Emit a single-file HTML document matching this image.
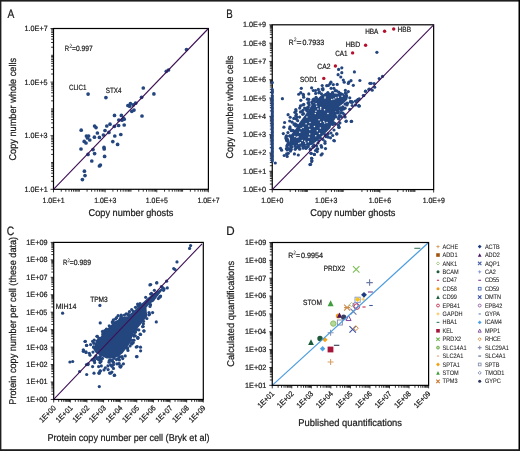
<!DOCTYPE html>
<html><head><meta charset="utf-8"><style>
html,body{margin:0;padding:0;background:#fff;}
svg{display:block;will-change:transform;}
text.l{stroke-width:0.06px;}
text{font-family:"Liberation Sans", sans-serif;fill:#1b1a1a;text-rendering:geometricPrecision;stroke:#1b1a1a;stroke-width:0.22px;}
</style></head><body>
<svg width="520" height="451" viewBox="0 0 520 451">
<rect width="520" height="451" fill="#fff"/>
<rect x="0" y="0" width="520" height="1.6" fill="#1e1e1e"/>
<rect x="0" y="0" width="1.4" height="451" fill="#1e1e1e"/>
<rect x="518.5" y="0" width="1.5" height="451" fill="#000"/>
<rect x="0" y="449.2" width="520" height="1.8" fill="#1e1e1e"/>
<text x="7.38" y="17.6" font-size="12.2" textLength="6.83" lengthAdjust="spacingAndGlyphs">A</text>
<text x="24.57" y="191.8" font-size="7.6" textLength="23.08" lengthAdjust="spacingAndGlyphs">1.0E+1</text>
<text x="42.54" y="202.6" font-size="7.6" textLength="22.14" lengthAdjust="spacingAndGlyphs">1.0E+1</text>
<text x="24.57" y="138.2" font-size="7.6" textLength="23.04" lengthAdjust="spacingAndGlyphs">1.0E+3</text>
<text x="94.17" y="202.6" font-size="7.6" textLength="22.11" lengthAdjust="spacingAndGlyphs">1.0E+3</text>
<text x="24.57" y="84.6" font-size="7.6" textLength="23.03" lengthAdjust="spacingAndGlyphs">1.0E+5</text>
<text x="145.81" y="202.6" font-size="7.6" textLength="22.09" lengthAdjust="spacingAndGlyphs">1.0E+5</text>
<text x="24.57" y="31" font-size="7.6" textLength="23.08" lengthAdjust="spacingAndGlyphs">1.0E+7</text>
<text x="197.44" y="202.6" font-size="7.6" textLength="22.14" lengthAdjust="spacingAndGlyphs">1.0E+7</text>
<path d="M53.5 189.3v3M105.13 189.3v3M156.77 189.3v3M208.4 189.3v3M61.27 189.3v2.4M65.82 189.3v2.4M69.04 189.3v2.4M71.55 189.3v2.4M73.59 189.3v2.4M75.32 189.3v2.4M76.81 189.3v2.4M78.14 189.3v2.4M79.32 189.3v2.4M87.09 189.3v2.4M91.63 189.3v2.4M94.86 189.3v2.4M97.36 189.3v2.4M99.41 189.3v2.4M101.13 189.3v2.4M102.63 189.3v2.4M103.95 189.3v2.4M112.9 189.3v2.4M117.45 189.3v2.4M120.68 189.3v2.4M123.18 189.3v2.4M125.22 189.3v2.4M126.95 189.3v2.4M128.45 189.3v2.4M129.77 189.3v2.4M130.95 189.3v2.4M138.72 189.3v2.4M143.27 189.3v2.4M146.49 189.3v2.4M149 189.3v2.4M151.04 189.3v2.4M152.77 189.3v2.4M154.26 189.3v2.4M155.59 189.3v2.4M164.54 189.3v2.4M169.08 189.3v2.4M172.31 189.3v2.4M174.81 189.3v2.4M176.86 189.3v2.4M178.58 189.3v2.4M180.08 189.3v2.4M181.4 189.3v2.4M182.58 189.3v2.4M190.35 189.3v2.4M194.9 189.3v2.4M198.13 189.3v2.4M200.63 189.3v2.4M202.67 189.3v2.4M204.4 189.3v2.4M205.9 189.3v2.4M207.22 189.3v2.4M53.5 189.3h-3M53.5 135.7h-3M53.5 82.1h-3M53.5 28.5h-3M53.5 181.23h-2.4M53.5 176.51h-2.4M53.5 173.16h-2.4M53.5 170.57h-2.4M53.5 168.45h-2.4M53.5 166.65h-2.4M53.5 165.1h-2.4M53.5 163.73h-2.4M53.5 162.5h-2.4M53.5 154.43h-2.4M53.5 149.71h-2.4M53.5 146.36h-2.4M53.5 143.77h-2.4M53.5 141.65h-2.4M53.5 139.85h-2.4M53.5 138.3h-2.4M53.5 136.93h-2.4M53.5 127.63h-2.4M53.5 122.91h-2.4M53.5 119.56h-2.4M53.5 116.97h-2.4M53.5 114.85h-2.4M53.5 113.05h-2.4M53.5 111.5h-2.4M53.5 110.13h-2.4M53.5 108.9h-2.4M53.5 100.83h-2.4M53.5 96.11h-2.4M53.5 92.76h-2.4M53.5 90.17h-2.4M53.5 88.05h-2.4M53.5 86.25h-2.4M53.5 84.7h-2.4M53.5 83.33h-2.4M53.5 74.03h-2.4M53.5 69.31h-2.4M53.5 65.96h-2.4M53.5 63.37h-2.4M53.5 61.25h-2.4M53.5 59.45h-2.4M53.5 57.9h-2.4M53.5 56.53h-2.4M53.5 55.3h-2.4M53.5 47.23h-2.4M53.5 42.51h-2.4M53.5 39.16h-2.4M53.5 36.57h-2.4M53.5 34.45h-2.4M53.5 32.65h-2.4M53.5 31.1h-2.4M53.5 29.73h-2.4" stroke="#000" stroke-width="0.8" fill="none"/>
<rect x="53.5" y="28.5" width="154.9" height="160.8" fill="none" stroke="#000" stroke-width="1.2"/>
<g fill="#24467f"><circle cx="81.2" cy="130.2" r="1.85"/><circle cx="94.6" cy="126" r="1.85"/><circle cx="96" cy="127.6" r="1.85"/><circle cx="97.4" cy="133" r="1.85"/><circle cx="86.4" cy="136" r="1.85"/><circle cx="88.6" cy="136" r="1.85"/><circle cx="87.4" cy="138" r="1.85"/><circle cx="89.8" cy="140" r="1.85"/><circle cx="84.2" cy="141.4" r="1.85"/><circle cx="86" cy="143" r="1.85"/><circle cx="94.4" cy="137.2" r="1.85"/><circle cx="99.4" cy="137.4" r="1.85"/><circle cx="81" cy="149" r="1.85"/><circle cx="93" cy="149.6" r="1.85"/><circle cx="94.6" cy="153.6" r="1.85"/><circle cx="88" cy="154.4" r="1.85"/><circle cx="91.8" cy="161" r="1.85"/><circle cx="104" cy="147.4" r="1.85"/><circle cx="104.2" cy="149" r="1.85"/><circle cx="104.6" cy="156.4" r="1.85"/><circle cx="99.4" cy="166" r="1.85"/><circle cx="100.4" cy="165" r="1.85"/><circle cx="84.4" cy="171.2" r="1.85"/><circle cx="85" cy="175.6" r="1.85"/><circle cx="82.4" cy="179.6" r="1.85"/><circle cx="105" cy="130.5" r="1.85"/><circle cx="103.4" cy="135" r="1.85"/><circle cx="106.8" cy="126" r="1.85"/><circle cx="110" cy="124.2" r="1.85"/><circle cx="108.9" cy="132.4" r="1.85"/><circle cx="114.5" cy="115.4" r="1.85"/><circle cx="114.4" cy="126.3" r="1.85"/><circle cx="114.8" cy="136" r="1.85"/><circle cx="112.8" cy="141.6" r="1.85"/><circle cx="117.6" cy="144.4" r="1.85"/><circle cx="120.8" cy="134.5" r="1.85"/><circle cx="121.4" cy="115.4" r="1.85"/><circle cx="118.8" cy="120" r="1.85"/><circle cx="118.6" cy="125.5" r="1.85"/><circle cx="122" cy="120.2" r="1.85"/><circle cx="123.4" cy="118.7" r="1.85"/><circle cx="124.2" cy="125" r="1.85"/><circle cx="124.2" cy="119.2" r="1.85"/><circle cx="127.9" cy="105.5" r="1.85"/><circle cx="129.6" cy="106.2" r="1.85"/><circle cx="186.5" cy="49.5" r="1.85"/><circle cx="166.3" cy="71.3" r="1.85"/><circle cx="168.5" cy="70" r="1.85"/><circle cx="143.3" cy="88" r="1.85"/><circle cx="153.9" cy="93.9" r="1.85"/><circle cx="141.6" cy="97.3" r="1.85"/><circle cx="130.4" cy="103.5" r="1.85"/><circle cx="135.6" cy="103.2" r="1.85"/><circle cx="133.2" cy="104.9" r="1.85"/><circle cx="131.8" cy="111.3" r="1.85"/><circle cx="134" cy="110.1" r="1.85"/><circle cx="142" cy="116" r="1.85"/><circle cx="88.1" cy="94.1" r="1.85"/><circle cx="105.9" cy="97.6" r="1.85"/></g>
<line x1="53.5" y1="189.3" x2="208.4" y2="28.5" stroke="#3e1056" stroke-width="1.1"/>
<text x="64.71" y="50.9" font-size="7.6" textLength="4.36" lengthAdjust="spacingAndGlyphs">R</text>
<path d="M69.74 44.97Q70.82 43.21 71.66 44.97Q71.9 45.95 69.62 47.5H72.02" fill="none" stroke="#1b1a1a" stroke-width="0.55"/>
<text x="71.99" y="50.9" font-size="7.6" textLength="20.73" lengthAdjust="spacingAndGlyphs">=0.997</text>
<text x="68.9" y="89.6" font-size="7.6" textLength="17.6" lengthAdjust="spacingAndGlyphs">CLIC1</text>
<text x="105.73" y="92.9" font-size="7.6" textLength="15.74" lengthAdjust="spacingAndGlyphs">STX4</text>
<text x="88.55" y="216.1" font-size="9.8" textLength="84.76" lengthAdjust="spacingAndGlyphs">Copy number ghosts</text>
<text x="15.75" y="160.55" font-size="9.8" textLength="102.66" lengthAdjust="spacingAndGlyphs" transform="rotate(-90 15.75 160.55)">Copy number whole cells</text>
<text x="226.31" y="17.6" font-size="12.2" textLength="6.49" lengthAdjust="spacingAndGlyphs">B</text>
<text x="243.07" y="192.05" font-size="7.6" textLength="23.01" lengthAdjust="spacingAndGlyphs">1.0E+0</text>
<text x="243.07" y="173.74" font-size="7.6" textLength="23.08" lengthAdjust="spacingAndGlyphs">1.0E+1</text>
<text x="243.07" y="155.44" font-size="7.6" textLength="23.08" lengthAdjust="spacingAndGlyphs">1.0E+2</text>
<text x="243.07" y="137.13" font-size="7.6" textLength="23.04" lengthAdjust="spacingAndGlyphs">1.0E+3</text>
<text x="243.07" y="118.83" font-size="7.6" textLength="22.93" lengthAdjust="spacingAndGlyphs">1.0E+4</text>
<text x="243.07" y="100.52" font-size="7.6" textLength="23.03" lengthAdjust="spacingAndGlyphs">1.0E+5</text>
<text x="243.07" y="82.22" font-size="7.6" textLength="23.04" lengthAdjust="spacingAndGlyphs">1.0E+6</text>
<text x="243.07" y="63.91" font-size="7.6" textLength="23.08" lengthAdjust="spacingAndGlyphs">1.0E+7</text>
<text x="243.07" y="45.61" font-size="7.6" textLength="23.04" lengthAdjust="spacingAndGlyphs">1.0E+8</text>
<text x="243.07" y="27.3" font-size="7.6" textLength="23.06" lengthAdjust="spacingAndGlyphs">1.0E+9</text>
<text x="261.24" y="202.6" font-size="7.6" textLength="22.18" lengthAdjust="spacingAndGlyphs">1.0E+0</text>
<text x="315.04" y="202.6" font-size="7.6" textLength="22.21" lengthAdjust="spacingAndGlyphs">1.0E+3</text>
<text x="368.84" y="202.6" font-size="7.6" textLength="22.21" lengthAdjust="spacingAndGlyphs">1.0E+6</text>
<text x="422.64" y="202.6" font-size="7.6" textLength="22.23" lengthAdjust="spacingAndGlyphs">1.0E+9</text>
<path d="M272.25 189.55v3M326.05 189.55v3M379.85 189.55v3M433.65 189.55v3M290.18 189.55v2.4M295.58 189.55v2.4M298.74 189.55v2.4M300.98 189.55v2.4M302.72 189.55v2.4M304.14 189.55v2.4M305.34 189.55v2.4M306.38 189.55v2.4M307.3 189.55v2.4M331.45 189.55v2.4M334.61 189.55v2.4M336.85 189.55v2.4M338.58 189.55v2.4M340 189.55v2.4M341.21 189.55v2.4M342.25 189.55v2.4M343.16 189.55v2.4M361.92 189.55v2.4M367.32 189.55v2.4M370.47 189.55v2.4M372.71 189.55v2.4M374.45 189.55v2.4M375.87 189.55v2.4M377.07 189.55v2.4M378.11 189.55v2.4M379.03 189.55v2.4M397.78 189.55v2.4M403.18 189.55v2.4M406.34 189.55v2.4M408.58 189.55v2.4M410.32 189.55v2.4M411.74 189.55v2.4M412.94 189.55v2.4M413.98 189.55v2.4M414.9 189.55v2.4M272.25 189.55h-3M272.25 171.24h-3M272.25 152.94h-3M272.25 134.63h-3M272.25 116.33h-3M272.25 98.02h-3M272.25 79.72h-3M272.25 61.41h-3M272.25 43.11h-3M272.25 24.8h-3M272.25 184.04h-2.4M272.25 180.82h-2.4M272.25 178.53h-2.4M272.25 176.75h-2.4M272.25 175.31h-2.4M272.25 174.08h-2.4M272.25 173.02h-2.4M272.25 172.08h-2.4M272.25 165.73h-2.4M272.25 162.51h-2.4M272.25 160.22h-2.4M272.25 158.45h-2.4M272.25 157h-2.4M272.25 155.77h-2.4M272.25 154.71h-2.4M272.25 153.78h-2.4M272.25 147.43h-2.4M272.25 144.2h-2.4M272.25 141.92h-2.4M272.25 140.14h-2.4M272.25 138.69h-2.4M272.25 137.47h-2.4M272.25 136.41h-2.4M272.25 135.47h-2.4M272.25 129.12h-2.4M272.25 125.9h-2.4M272.25 123.61h-2.4M272.25 121.84h-2.4M272.25 120.39h-2.4M272.25 119.16h-2.4M272.25 118.1h-2.4M272.25 117.17h-2.4M272.25 110.82h-2.4M272.25 107.59h-2.4M272.25 105.31h-2.4M272.25 103.53h-2.4M272.25 102.08h-2.4M272.25 100.86h-2.4M272.25 99.8h-2.4M272.25 98.86h-2.4M272.25 92.51h-2.4M272.25 89.29h-2.4M272.25 87h-2.4M272.25 85.23h-2.4M272.25 83.78h-2.4M272.25 82.55h-2.4M272.25 81.49h-2.4M272.25 80.55h-2.4M272.25 74.21h-2.4M272.25 70.98h-2.4M272.25 68.7h-2.4M272.25 66.92h-2.4M272.25 65.47h-2.4M272.25 64.25h-2.4M272.25 63.19h-2.4M272.25 62.25h-2.4M272.25 55.9h-2.4M272.25 52.68h-2.4M272.25 50.39h-2.4M272.25 48.62h-2.4M272.25 47.17h-2.4M272.25 45.94h-2.4M272.25 44.88h-2.4M272.25 43.94h-2.4M272.25 37.6h-2.4M272.25 34.37h-2.4M272.25 32.08h-2.4M272.25 30.31h-2.4M272.25 28.86h-2.4M272.25 27.64h-2.4M272.25 26.57h-2.4M272.25 25.64h-2.4" stroke="#000" stroke-width="0.8" fill="none"/>
<rect x="272.25" y="24.8" width="161.4" height="164.75" fill="none" stroke="#000" stroke-width="1.2"/>
<path d="M326.2 92.5L335.6 93.5L344 94.5L348 96L347.4 99.5L343.6 103.3L340.6 105.6L336.9 108.6L335.3 112.3L336.5 116.1L334.6 119.9L331.6 123.7L330.5 128L326 132.5L320.5 137.5L316.9 140.9L311.6 145L300 146L289 145L290.3 135.6L295.6 128.9L299.6 122.2L303.6 116.9L307.6 111.6L311.6 105L316.9 99.6L320.9 95.6Z" fill="#24467f"/>
<g fill="#24467f"><circle cx="293.85" cy="118.39" r="1.6"/><circle cx="286.8" cy="140.72" r="1.6"/><circle cx="314.3" cy="100.86" r="1.6"/><circle cx="303.65" cy="97.22" r="1.6"/><circle cx="337.47" cy="110.03" r="1.6"/><circle cx="343.49" cy="108.99" r="1.6"/><circle cx="339.78" cy="93.33" r="1.6"/><circle cx="289.82" cy="128.28" r="1.6"/><circle cx="302.81" cy="146.36" r="1.6"/><circle cx="295.8" cy="109.57" r="1.6"/><circle cx="298.71" cy="94.24" r="1.6"/><circle cx="311.61" cy="87.79" r="1.6"/><circle cx="322.91" cy="89.87" r="1.6"/><circle cx="307.16" cy="146.82" r="1.6"/><circle cx="331.84" cy="123.83" r="1.6"/><circle cx="335.13" cy="123.57" r="1.6"/><circle cx="286.28" cy="136.27" r="1.6"/><circle cx="316.07" cy="97.27" r="1.6"/><circle cx="313.14" cy="146.88" r="1.6"/><circle cx="294.89" cy="112.32" r="1.6"/><circle cx="290.21" cy="117.24" r="1.6"/><circle cx="300.76" cy="92.68" r="1.6"/><circle cx="313.8" cy="100.64" r="1.6"/><circle cx="296.06" cy="111.05" r="1.6"/><circle cx="333.15" cy="122.79" r="1.6"/><circle cx="315.64" cy="93.4" r="1.6"/><circle cx="300.43" cy="105.93" r="1.6"/><circle cx="326.08" cy="136.72" r="1.6"/><circle cx="328.12" cy="133.82" r="1.6"/><circle cx="296" cy="147.5" r="1.6"/><circle cx="293.55" cy="130.9" r="1.6"/><circle cx="338.55" cy="118.85" r="1.6"/><circle cx="322.98" cy="88.71" r="1.6"/><circle cx="290.74" cy="147.1" r="1.6"/><circle cx="297.54" cy="125.41" r="1.6"/><circle cx="306.37" cy="147.04" r="1.6"/><circle cx="286.6" cy="139.33" r="1.6"/><circle cx="286.85" cy="138.76" r="1.6"/><circle cx="336.17" cy="116.86" r="1.6"/><circle cx="299.66" cy="149.2" r="1.6"/><circle cx="310.39" cy="149.19" r="1.6"/><circle cx="345.39" cy="93.08" r="1.6"/><circle cx="327.87" cy="92.6" r="1.6"/><circle cx="316.57" cy="98.93" r="1.6"/><circle cx="286.44" cy="135.95" r="1.6"/><circle cx="309.22" cy="105.04" r="1.6"/><circle cx="345.05" cy="104.06" r="1.6"/><circle cx="286.46" cy="139.4" r="1.6"/><circle cx="287.13" cy="139.37" r="1.6"/><circle cx="313.92" cy="100.08" r="1.6"/><circle cx="299.17" cy="146.33" r="1.6"/><circle cx="303.18" cy="148.16" r="1.6"/><circle cx="289.58" cy="149.01" r="1.6"/><circle cx="292.74" cy="130.32" r="1.6"/><circle cx="295.99" cy="124.66" r="1.6"/><circle cx="308.92" cy="102.52" r="1.6"/><circle cx="295.19" cy="149.33" r="1.6"/><circle cx="313.79" cy="144.82" r="1.6"/><circle cx="287.63" cy="145.18" r="1.6"/><circle cx="287.48" cy="140.25" r="1.6"/><circle cx="343.8" cy="108.64" r="1.6"/><circle cx="339.05" cy="108.63" r="1.6"/><circle cx="332.73" cy="124.44" r="1.6"/><circle cx="307.6" cy="107.55" r="1.6"/><circle cx="313.85" cy="99.05" r="1.6"/><circle cx="319.41" cy="91.86" r="1.6"/><circle cx="304.27" cy="146.11" r="1.6"/><circle cx="289.85" cy="129.01" r="1.6"/><circle cx="312.98" cy="99.75" r="1.6"/><circle cx="295.06" cy="146.11" r="1.6"/><circle cx="342.79" cy="106.91" r="1.6"/><circle cx="308.28" cy="103.05" r="1.6"/><circle cx="341.24" cy="93.91" r="1.6"/><circle cx="324.88" cy="134.58" r="1.6"/><circle cx="302.71" cy="114.32" r="1.6"/><circle cx="350.56" cy="101.49" r="1.6"/><circle cx="335.26" cy="90.63" r="1.6"/><circle cx="347" cy="104.97" r="1.6"/><circle cx="287.93" cy="132.6" r="1.6"/><circle cx="286.39" cy="148.66" r="1.6"/><circle cx="286.82" cy="145.99" r="1.6"/><circle cx="345.37" cy="90.44" r="1.6"/><circle cx="349.77" cy="97.82" r="1.6"/><circle cx="308.19" cy="107.19" r="1.6"/><circle cx="294.09" cy="124.46" r="1.6"/><circle cx="287.91" cy="149.05" r="1.6"/><circle cx="341.36" cy="116.71" r="1.6"/><circle cx="339.45" cy="115.53" r="1.6"/><circle cx="295.03" cy="123.85" r="1.6"/><circle cx="310.26" cy="149.47" r="1.6"/><circle cx="296.32" cy="118.96" r="1.6"/><circle cx="320.44" cy="138.1" r="1.6"/><circle cx="285.79" cy="137.99" r="1.6"/><circle cx="337.66" cy="113.02" r="1.6"/><circle cx="336.44" cy="109.85" r="1.6"/><circle cx="305.97" cy="148.31" r="1.6"/><circle cx="338.27" cy="111.14" r="1.6"/><circle cx="333.49" cy="122.59" r="1.6"/><circle cx="346.91" cy="103.13" r="1.6"/><circle cx="306.16" cy="109.42" r="1.6"/><circle cx="290.95" cy="149.87" r="1.6"/><circle cx="332.36" cy="92.97" r="1.6"/><circle cx="341.39" cy="110.43" r="1.6"/><circle cx="350.49" cy="101.62" r="1.6"/><circle cx="299.56" cy="117.03" r="1.6"/><circle cx="346.24" cy="93.78" r="1.6"/><circle cx="297.66" cy="146.68" r="1.6"/><circle cx="302.91" cy="110.23" r="1.6"/><circle cx="318.75" cy="140.54" r="1.6"/><circle cx="311.84" cy="102.05" r="1.6"/><circle cx="347.55" cy="103.34" r="1.6"/><circle cx="290.03" cy="135.91" r="1.6"/><circle cx="287.51" cy="144.59" r="1.6"/><circle cx="291.34" cy="130.64" r="1.6"/><circle cx="307" cy="110.95" r="1.6"/><circle cx="338.23" cy="107.79" r="1.6"/><circle cx="288.32" cy="142.44" r="1.6"/><circle cx="341.77" cy="108.99" r="1.6"/><circle cx="291.06" cy="146.22" r="1.6"/><circle cx="321.47" cy="93.8" r="1.6"/><circle cx="312.42" cy="103.39" r="1.6"/><circle cx="308.12" cy="102.8" r="1.6"/><circle cx="303.51" cy="113.59" r="1.6"/><circle cx="335.67" cy="113.25" r="1.6"/><circle cx="295.63" cy="125.97" r="1.6"/><circle cx="282.4" cy="98.7" r="1.6"/><circle cx="300.8" cy="100.3" r="1.6"/><circle cx="303.3" cy="95" r="1.6"/><circle cx="307.4" cy="99.2" r="1.6"/><circle cx="308.8" cy="99.4" r="1.6"/><circle cx="302.7" cy="105" r="1.6"/><circle cx="303.8" cy="104.4" r="1.6"/><circle cx="299.7" cy="108.1" r="1.6"/><circle cx="304.6" cy="108.1" r="1.6"/><circle cx="307.7" cy="108.9" r="1.6"/><circle cx="300.5" cy="111.9" r="1.6"/><circle cx="302.1" cy="111.6" r="1.6"/><circle cx="288.1" cy="114.7" r="1.6"/><circle cx="296.4" cy="114.4" r="1.6"/><circle cx="295.7" cy="116" r="1.6"/><circle cx="296.9" cy="117" r="1.6"/><circle cx="289.7" cy="121" r="1.6"/><circle cx="292.2" cy="122.2" r="1.6"/><circle cx="284.6" cy="122.5" r="1.6"/><circle cx="297.7" cy="120.7" r="1.6"/><circle cx="283.9" cy="127.2" r="1.6"/><circle cx="290" cy="126.9" r="1.6"/><circle cx="283.3" cy="133.6" r="1.6"/><circle cx="289.6" cy="136" r="1.6"/><circle cx="352.1" cy="102.2" r="1.6"/><circle cx="357.7" cy="100" r="1.6"/><circle cx="359.3" cy="98.9" r="1.6"/><circle cx="358.8" cy="106.1" r="1.6"/><circle cx="346" cy="121.3" r="1.6"/><circle cx="351.6" cy="121.3" r="1.6"/><circle cx="336.6" cy="133.8" r="1.6"/><circle cx="333.8" cy="140.5" r="1.6"/><circle cx="338.8" cy="127.2" r="1.6"/><circle cx="301.3" cy="88.3" r="1.6"/><circle cx="303.3" cy="94.4" r="1.6"/><circle cx="308.8" cy="93.9" r="1.6"/><circle cx="313.3" cy="90.5" r="1.6"/><circle cx="315.5" cy="90.5" r="1.6"/><circle cx="318.3" cy="89.4" r="1.6"/><circle cx="318.8" cy="92.8" r="1.6"/><circle cx="338.6" cy="69.4" r="1.6"/><circle cx="341.8" cy="67.8" r="1.6"/><circle cx="341.8" cy="72.7" r="1.6"/><circle cx="338.1" cy="74.7" r="1.6"/><circle cx="340.8" cy="77" r="1.6"/><circle cx="354.4" cy="71.9" r="1.6"/><circle cx="343.3" cy="80" r="1.6"/><circle cx="344.2" cy="82.2" r="1.6"/><circle cx="351" cy="80.7" r="1.6"/><circle cx="348.8" cy="82.2" r="1.6"/><circle cx="348.3" cy="83.5" r="1.6"/><circle cx="359.9" cy="80.5" r="1.6"/><circle cx="353.3" cy="85.3" r="1.6"/><circle cx="330.9" cy="82.2" r="1.6"/><circle cx="330" cy="83.8" r="1.6"/><circle cx="328.3" cy="85.5" r="1.6"/><circle cx="326.7" cy="85.7" r="1.6"/><circle cx="333.3" cy="84.6" r="1.6"/><circle cx="337.2" cy="84.4" r="1.6"/><circle cx="322.2" cy="85.5" r="1.6"/><circle cx="331.1" cy="88.3" r="1.6"/><circle cx="333.9" cy="88.3" r="1.6"/><circle cx="322.2" cy="89" r="1.6"/><circle cx="336.6" cy="90.8" r="1.6"/><circle cx="338.8" cy="92.2" r="1.6"/><circle cx="348.3" cy="91.6" r="1.6"/><circle cx="332.7" cy="92.7" r="1.6"/><circle cx="342.7" cy="94.6" r="1.6"/><circle cx="346.6" cy="96" r="1.6"/><circle cx="365.5" cy="91" r="1.6"/><circle cx="368.8" cy="89.4" r="1.6"/><circle cx="369.9" cy="83.3" r="1.6"/><circle cx="363.8" cy="95.5" r="1.6"/><circle cx="352.2" cy="101.9" r="1.6"/><circle cx="355.5" cy="101" r="1.6"/><circle cx="357.7" cy="99.9" r="1.6"/><circle cx="358.8" cy="105.5" r="1.6"/><circle cx="352.2" cy="105.5" r="1.6"/><circle cx="275.3" cy="163" r="1.6"/><circle cx="280.5" cy="148.3" r="1.6"/><circle cx="281.6" cy="150.2" r="1.6"/><circle cx="284.2" cy="155.5" r="1.6"/><circle cx="287.2" cy="156.4" r="1.6"/><circle cx="286.6" cy="153.9" r="1.6"/><circle cx="288.3" cy="153.3" r="1.6"/><circle cx="287.2" cy="150" r="1.6"/><circle cx="287.7" cy="148.3" r="1.6"/><circle cx="290.5" cy="151.1" r="1.6"/><circle cx="291.1" cy="149.4" r="1.6"/><circle cx="294.4" cy="153.9" r="1.6"/><circle cx="298.3" cy="155" r="1.6"/><circle cx="288.8" cy="144.4" r="1.6"/><circle cx="291.1" cy="144.4" r="1.6"/><circle cx="296.6" cy="147.8" r="1.6"/><circle cx="303.3" cy="146.1" r="1.6"/><circle cx="311.6" cy="158.3" r="1.6"/><circle cx="311.9" cy="160.5" r="1.6"/><circle cx="309.9" cy="164.6" r="1.6"/><circle cx="314.3" cy="154.4" r="1.6"/><circle cx="311" cy="153.3" r="1.6"/><circle cx="315.5" cy="150.5" r="1.6"/><circle cx="317.7" cy="148.9" r="1.6"/><circle cx="308.8" cy="144.4" r="1.6"/><circle cx="308.2" cy="146.7" r="1.6"/><circle cx="313.2" cy="146.7" r="1.6"/><circle cx="316.6" cy="146.1" r="1.6"/><circle cx="336.9" cy="133.9" r="1.6"/><circle cx="334.4" cy="140.8" r="1.6"/><circle cx="332.7" cy="135.5" r="1.6"/><circle cx="330.5" cy="137.8" r="1.6"/><circle cx="328.3" cy="137.2" r="1.6"/><circle cx="325" cy="141.6" r="1.6"/><circle cx="325" cy="143.3" r="1.6"/><circle cx="325.5" cy="148.6" r="1.6"/><circle cx="321.1" cy="145.5" r="1.6"/><circle cx="321.6" cy="147.2" r="1.6"/><circle cx="322.2" cy="153.8" r="1.6"/><circle cx="321.1" cy="155" r="1.6"/><circle cx="316.7" cy="149.4" r="1.6"/><circle cx="317.2" cy="151.6" r="1.6"/><circle cx="314.4" cy="154.4" r="1.6"/><circle cx="311.7" cy="158.3" r="1.6"/><circle cx="311.7" cy="161.6" r="1.6"/><circle cx="310.6" cy="164.4" r="1.6"/><circle cx="311.1" cy="153.3" r="1.6"/><circle cx="382.5" cy="76.4" r="1.6"/><circle cx="379.2" cy="78.6" r="1.6"/><circle cx="371.1" cy="83.3" r="1.6"/><circle cx="374.1" cy="83.5" r="1.6"/><circle cx="374.7" cy="87.2" r="1.6"/><circle cx="372.2" cy="90.2" r="1.6"/><circle cx="369.4" cy="89" r="1.6"/><circle cx="365.5" cy="91.3" r="1.6"/><circle cx="363.3" cy="95.5" r="1.6"/><circle cx="358.3" cy="99.4" r="1.6"/><circle cx="356.1" cy="101.6" r="1.6"/><circle cx="355.6" cy="104.9" r="1.6"/><circle cx="359.4" cy="106" r="1.6"/><circle cx="376.9" cy="52.3" r="1.6"/><circle cx="272.3" cy="82.6" r="1.6"/><circle cx="272.3" cy="89.6" r="1.6"/><circle cx="272.3" cy="91.2" r="1.6"/><circle cx="272.3" cy="92.8" r="1.6"/><circle cx="272.3" cy="95.5" r="1.6"/><circle cx="272.3" cy="97.1" r="1.6"/><circle cx="272.3" cy="98.7" r="1.6"/><circle cx="272.3" cy="100.3" r="1.6"/><circle cx="272.3" cy="101.9" r="1.6"/><circle cx="272.3" cy="103.5" r="1.6"/><circle cx="272.3" cy="105.1" r="1.6"/><circle cx="272.3" cy="106.7" r="1.6"/><circle cx="272.3" cy="108.3" r="1.6"/><circle cx="272.3" cy="109.9" r="1.6"/><circle cx="272.3" cy="111.5" r="1.6"/><circle cx="272.3" cy="113.1" r="1.6"/><circle cx="272.3" cy="114.7" r="1.6"/><circle cx="272.3" cy="116.3" r="1.6"/><circle cx="272.3" cy="117.9" r="1.6"/><circle cx="272.3" cy="119.5" r="1.6"/><circle cx="272.3" cy="121.1" r="1.6"/><circle cx="272.3" cy="122.7" r="1.6"/><circle cx="272.3" cy="124.3" r="1.6"/><circle cx="272.3" cy="125.9" r="1.6"/><circle cx="272.3" cy="127.5" r="1.6"/><circle cx="272.3" cy="129.1" r="1.6"/><circle cx="272.3" cy="130.7" r="1.6"/><circle cx="272.3" cy="132.3" r="1.6"/><circle cx="272.3" cy="133.9" r="1.6"/><circle cx="272.3" cy="135.5" r="1.6"/><circle cx="272.3" cy="137.1" r="1.6"/><circle cx="272.3" cy="138.7" r="1.6"/><circle cx="272.3" cy="140.3" r="1.6"/><circle cx="272.3" cy="141.9" r="1.6"/><circle cx="272.3" cy="143.5" r="1.6"/><circle cx="272.3" cy="145.1" r="1.6"/><circle cx="272.3" cy="146.7" r="1.6"/><circle cx="272.3" cy="148.3" r="1.6"/><circle cx="272.3" cy="149.9" r="1.6"/><circle cx="272.3" cy="151.5" r="1.6"/><circle cx="272.3" cy="153.1" r="1.6"/><circle cx="272.3" cy="154.7" r="1.6"/><circle cx="272.3" cy="156.3" r="1.6"/><circle cx="272.3" cy="157.9" r="1.6"/><circle cx="272.3" cy="159.5" r="1.6"/><circle cx="272.3" cy="161.1" r="1.6"/><circle cx="337.6" cy="110.8" r="1.6"/><circle cx="340.6" cy="113.1" r="1.6"/><circle cx="342.9" cy="113.1" r="1.6"/><circle cx="344.4" cy="114.6" r="1.6"/><circle cx="345.1" cy="116.9" r="1.6"/><circle cx="346.3" cy="121" r="1.6"/><circle cx="351.2" cy="102.2" r="1.6"/><circle cx="351.2" cy="121.4" r="1.6"/><circle cx="340.6" cy="107.8" r="1.6"/><circle cx="342.9" cy="108.6" r="1.6"/><circle cx="345.1" cy="108.2" r="1.6"/><circle cx="349.7" cy="109.3" r="1.6"/><circle cx="339.1" cy="117.6" r="1.6"/><circle cx="339.9" cy="122.9" r="1.6"/><circle cx="338.4" cy="125.2" r="1.6"/><circle cx="339.1" cy="127.4" r="1.6"/><circle cx="334" cy="130" r="1.6"/><circle cx="331" cy="133" r="1.6"/><circle cx="327" cy="136" r="1.6"/><circle cx="323" cy="139.5" r="1.6"/><circle cx="318" cy="143" r="1.6"/><circle cx="313" cy="146.5" r="1.6"/><circle cx="306" cy="148" r="1.6"/><circle cx="299" cy="147.5" r="1.6"/><circle cx="292" cy="147" r="1.6"/></g>
<g fill="#ffffff"><circle cx="342.05" cy="96.34" r="0.75"/><circle cx="316.14" cy="103.81" r="0.75"/><circle cx="320.63" cy="122.14" r="0.75"/><circle cx="304.77" cy="141.32" r="0.75"/><circle cx="333.94" cy="98.94" r="0.75"/><circle cx="335.83" cy="97.77" r="0.75"/><circle cx="325.05" cy="97.1" r="0.75"/><circle cx="320.35" cy="127.96" r="0.75"/><circle cx="300.29" cy="142.69" r="0.75"/><circle cx="306.08" cy="123.77" r="0.75"/><circle cx="306.95" cy="116.95" r="0.75"/><circle cx="309.97" cy="122.4" r="0.75"/><circle cx="298.86" cy="143.49" r="0.75"/><circle cx="299.79" cy="132.32" r="0.75"/><circle cx="319.48" cy="133.43" r="0.75"/><circle cx="308.4" cy="141.76" r="0.75"/><circle cx="320.71" cy="107.5" r="0.75"/><circle cx="315.34" cy="113.62" r="0.75"/><circle cx="338.31" cy="97.31" r="0.75"/><circle cx="296.95" cy="137.31" r="0.75"/><circle cx="317.29" cy="130.85" r="0.75"/><circle cx="316.74" cy="106.3" r="0.75"/><circle cx="317.96" cy="108.95" r="0.75"/><circle cx="309.68" cy="134.02" r="0.75"/><circle cx="309.81" cy="129.45" r="0.75"/><circle cx="305.63" cy="142.95" r="0.75"/><circle cx="326.98" cy="122.52" r="0.75"/><circle cx="303.04" cy="127.61" r="0.75"/><circle cx="315.78" cy="135.73" r="0.75"/><circle cx="308.87" cy="126.07" r="0.75"/><circle cx="309" cy="137.2" r="0.75"/><circle cx="319.09" cy="119.64" r="0.75"/><circle cx="297.97" cy="136.85" r="0.75"/><circle cx="331.82" cy="99.62" r="0.75"/><circle cx="327.93" cy="113.56" r="0.75"/><circle cx="314.46" cy="126.41" r="0.75"/><circle cx="301.14" cy="128.41" r="0.75"/><circle cx="315.92" cy="111.3" r="0.75"/><circle cx="324.71" cy="123.05" r="0.75"/><circle cx="302.27" cy="140.58" r="0.75"/><circle cx="294.9" cy="136.56" r="0.75"/><circle cx="320.71" cy="109" r="0.75"/><circle cx="323.76" cy="121.58" r="0.75"/><circle cx="324.52" cy="109.66" r="0.75"/><circle cx="324.91" cy="97.88" r="0.75"/></g>
<g fill="#b3102c"><circle cx="384.6" cy="31.3" r="1.7"/><circle cx="393.7" cy="29" r="1.7"/><circle cx="365.6" cy="45.3" r="1.7"/><circle cx="352.6" cy="52.9" r="1.7"/><circle cx="335.4" cy="66" r="1.7"/><circle cx="323.8" cy="78.4" r="1.7"/></g>
<line x1="272.25" y1="189.55" x2="433.65" y2="24.8" stroke="#3e1056" stroke-width="1.1"/>
<text x="288.76" y="44.5" font-size="7.6" textLength="4.85" lengthAdjust="spacingAndGlyphs">R</text>
<path d="M294.14 38.37Q295.22 36.61 296.06 38.37Q296.3 39.34 294.02 40.9H296.42" fill="none" stroke="#1b1a1a" stroke-width="0.55"/>
<text x="296.6" y="44.5" font-size="7.6" textLength="5.01" lengthAdjust="spacingAndGlyphs">=</text>
<text x="302.44" y="44.5" font-size="7.6" textLength="21.76" lengthAdjust="spacingAndGlyphs">0.7933</text>
<text x="365.18" y="33.7" font-size="7.6" textLength="13.22" lengthAdjust="spacingAndGlyphs">HBA</text>
<text x="397.57" y="32" font-size="7.6" textLength="13.45" lengthAdjust="spacingAndGlyphs">HBB</text>
<text x="345.64" y="47.1" font-size="7.6" textLength="14.57" lengthAdjust="spacingAndGlyphs">HBD</text>
<text x="335.19" y="55.5" font-size="7.6" textLength="12.3" lengthAdjust="spacingAndGlyphs">CA1</text>
<text x="317.27" y="68.8" font-size="7.6" textLength="13.14" lengthAdjust="spacingAndGlyphs">CA2</text>
<text x="300.02" y="82.3" font-size="7.6" textLength="17.27" lengthAdjust="spacingAndGlyphs">SOD1</text>
<text x="310.25" y="216.2" font-size="9.8" textLength="85.06" lengthAdjust="spacingAndGlyphs">Copy number ghosts</text>
<text x="233.5" y="158.55" font-size="9.8" textLength="102.96" lengthAdjust="spacingAndGlyphs" transform="rotate(-90 233.5 158.55)">Copy number whole cells</text>
<text x="6.79" y="235" font-size="12.2" textLength="7.48" lengthAdjust="spacingAndGlyphs">C</text>
<text x="26.37" y="401.85" font-size="7.6" textLength="21" lengthAdjust="spacingAndGlyphs">1E+00</text>
<text x="56.5" y="408.6" font-size="7.6" text-anchor="end" textLength="20.2" lengthAdjust="spacingAndGlyphs" transform="rotate(-45 56.5 408.6)">1E+00</text>
<text x="26.37" y="384.4" font-size="7.6" textLength="21.08" lengthAdjust="spacingAndGlyphs">1E+01</text>
<text x="73.12" y="408.6" font-size="7.6" text-anchor="end" textLength="20.2" lengthAdjust="spacingAndGlyphs" transform="rotate(-45 73.12 408.6)">1E+01</text>
<text x="26.37" y="366.95" font-size="7.6" textLength="21.08" lengthAdjust="spacingAndGlyphs">1E+02</text>
<text x="89.74" y="408.6" font-size="7.6" text-anchor="end" textLength="20.2" lengthAdjust="spacingAndGlyphs" transform="rotate(-45 89.74 408.6)">1E+02</text>
<text x="26.37" y="349.5" font-size="7.6" textLength="21.04" lengthAdjust="spacingAndGlyphs">1E+03</text>
<text x="106.37" y="408.6" font-size="7.6" text-anchor="end" textLength="20.2" lengthAdjust="spacingAndGlyphs" transform="rotate(-45 106.37 408.6)">1E+03</text>
<text x="26.37" y="332.05" font-size="7.6" textLength="20.93" lengthAdjust="spacingAndGlyphs">1E+04</text>
<text x="122.99" y="408.6" font-size="7.6" text-anchor="end" textLength="20.2" lengthAdjust="spacingAndGlyphs" transform="rotate(-45 122.99 408.6)">1E+04</text>
<text x="26.37" y="314.6" font-size="7.6" textLength="21.02" lengthAdjust="spacingAndGlyphs">1E+05</text>
<text x="139.61" y="408.6" font-size="7.6" text-anchor="end" textLength="20.2" lengthAdjust="spacingAndGlyphs" transform="rotate(-45 139.61 408.6)">1E+05</text>
<text x="26.37" y="297.15" font-size="7.6" textLength="21.04" lengthAdjust="spacingAndGlyphs">1E+06</text>
<text x="156.23" y="408.6" font-size="7.6" text-anchor="end" textLength="20.2" lengthAdjust="spacingAndGlyphs" transform="rotate(-45 156.23 408.6)">1E+06</text>
<text x="26.37" y="279.7" font-size="7.6" textLength="21.08" lengthAdjust="spacingAndGlyphs">1E+07</text>
<text x="172.86" y="408.6" font-size="7.6" text-anchor="end" textLength="20.2" lengthAdjust="spacingAndGlyphs" transform="rotate(-45 172.86 408.6)">1E+07</text>
<text x="26.37" y="262.25" font-size="7.6" textLength="21.04" lengthAdjust="spacingAndGlyphs">1E+08</text>
<text x="189.48" y="408.6" font-size="7.6" text-anchor="end" textLength="20.2" lengthAdjust="spacingAndGlyphs" transform="rotate(-45 189.48 408.6)">1E+08</text>
<text x="26.37" y="244.8" font-size="7.6" textLength="21.06" lengthAdjust="spacingAndGlyphs">1E+09</text>
<text x="206.1" y="408.6" font-size="7.6" text-anchor="end" textLength="20.2" lengthAdjust="spacingAndGlyphs" transform="rotate(-45 206.1 408.6)">1E+09</text>
<path d="M53.7 399.45v3M70.32 399.45v3M86.94 399.45v3M103.57 399.45v3M120.19 399.45v3M136.81 399.45v3M153.43 399.45v3M170.06 399.45v3M186.68 399.45v3M203.3 399.45v3M58.7 399.45v2.4M61.63 399.45v2.4M63.71 399.45v2.4M65.32 399.45v2.4M66.63 399.45v2.4M67.75 399.45v2.4M68.71 399.45v2.4M69.56 399.45v2.4M75.33 399.45v2.4M78.25 399.45v2.4M80.33 399.45v2.4M81.94 399.45v2.4M83.26 399.45v2.4M84.37 399.45v2.4M85.33 399.45v2.4M86.18 399.45v2.4M91.95 399.45v2.4M94.88 399.45v2.4M96.95 399.45v2.4M98.56 399.45v2.4M99.88 399.45v2.4M100.99 399.45v2.4M101.96 399.45v2.4M102.81 399.45v2.4M108.57 399.45v2.4M111.5 399.45v2.4M113.57 399.45v2.4M115.19 399.45v2.4M116.5 399.45v2.4M117.61 399.45v2.4M118.58 399.45v2.4M119.43 399.45v2.4M125.19 399.45v2.4M128.12 399.45v2.4M130.2 399.45v2.4M131.81 399.45v2.4M133.12 399.45v2.4M134.24 399.45v2.4M135.2 399.45v2.4M136.05 399.45v2.4M141.81 399.45v2.4M144.74 399.45v2.4M146.82 399.45v2.4M148.43 399.45v2.4M149.75 399.45v2.4M150.86 399.45v2.4M151.82 399.45v2.4M152.67 399.45v2.4M158.44 399.45v2.4M161.36 399.45v2.4M163.44 399.45v2.4M165.05 399.45v2.4M166.37 399.45v2.4M167.48 399.45v2.4M168.44 399.45v2.4M169.29 399.45v2.4M175.06 399.45v2.4M177.99 399.45v2.4M180.06 399.45v2.4M181.67 399.45v2.4M182.99 399.45v2.4M184.1 399.45v2.4M185.07 399.45v2.4M185.92 399.45v2.4M191.68 399.45v2.4M194.61 399.45v2.4M196.69 399.45v2.4M198.3 399.45v2.4M199.61 399.45v2.4M200.73 399.45v2.4M201.69 399.45v2.4M202.54 399.45v2.4M53.7 399.45h-3M53.7 382h-3M53.7 364.55h-3M53.7 347.1h-3M53.7 329.65h-3M53.7 312.2h-3M53.7 294.75h-3M53.7 277.3h-3M53.7 259.85h-3M53.7 242.4h-3M53.7 394.2h-2.4M53.7 391.12h-2.4M53.7 388.94h-2.4M53.7 387.25h-2.4M53.7 385.87h-2.4M53.7 384.7h-2.4M53.7 383.69h-2.4M53.7 382.8h-2.4M53.7 376.75h-2.4M53.7 373.67h-2.4M53.7 371.49h-2.4M53.7 369.8h-2.4M53.7 368.42h-2.4M53.7 367.25h-2.4M53.7 366.24h-2.4M53.7 365.35h-2.4M53.7 359.3h-2.4M53.7 356.22h-2.4M53.7 354.04h-2.4M53.7 352.35h-2.4M53.7 350.97h-2.4M53.7 349.8h-2.4M53.7 348.79h-2.4M53.7 347.9h-2.4M53.7 341.85h-2.4M53.7 338.77h-2.4M53.7 336.59h-2.4M53.7 334.9h-2.4M53.7 333.52h-2.4M53.7 332.35h-2.4M53.7 331.34h-2.4M53.7 330.45h-2.4M53.7 324.4h-2.4M53.7 321.32h-2.4M53.7 319.14h-2.4M53.7 317.45h-2.4M53.7 316.07h-2.4M53.7 314.9h-2.4M53.7 313.89h-2.4M53.7 313h-2.4M53.7 306.95h-2.4M53.7 303.87h-2.4M53.7 301.69h-2.4M53.7 300h-2.4M53.7 298.62h-2.4M53.7 297.45h-2.4M53.7 296.44h-2.4M53.7 295.55h-2.4M53.7 289.5h-2.4M53.7 286.42h-2.4M53.7 284.24h-2.4M53.7 282.55h-2.4M53.7 281.17h-2.4M53.7 280h-2.4M53.7 278.99h-2.4M53.7 278.1h-2.4M53.7 272.05h-2.4M53.7 268.97h-2.4M53.7 266.79h-2.4M53.7 265.1h-2.4M53.7 263.72h-2.4M53.7 262.55h-2.4M53.7 261.54h-2.4M53.7 260.65h-2.4M53.7 254.6h-2.4M53.7 251.52h-2.4M53.7 249.34h-2.4M53.7 247.65h-2.4M53.7 246.27h-2.4M53.7 245.1h-2.4M53.7 244.09h-2.4M53.7 243.2h-2.4" stroke="#000" stroke-width="0.8" fill="none"/>
<rect x="53.7" y="242.4" width="149.6" height="157.05" fill="none" stroke="#000" stroke-width="1.2"/>
<path d="M163 288.5L161.6 291.3L157.2 296.8L153.8 301.5L150 303.5L146.5 307.4L146.8 311.9L147.3 316.3L143.7 320.7L140.2 325.2L136.6 329.6L133.9 333.1L132.5 336L130.6 342.6L126.6 347.9L122.6 353.3L117.2 357.2L111.9 358.6L106.6 358.6L101.3 355.9L96 353.3L93.3 349.3L94.6 345.3L96 340L100 337.3L103.9 333.3L106.6 329.3L110 326L111.8 324.3L114.4 321.6L118 319.8L119.8 316.8L123.3 316.8L127.7 316.3L130.4 313.6L133.9 311L136.6 308.3L140.2 304.8L143.7 301.7L147 298.5L151 295.5L155 292.5L159 290L161.5 288.3Z" fill="#24467f"/>
<g fill="#24467f"><circle cx="190.6" cy="245.6" r="1.6"/><circle cx="189.6" cy="248.4" r="1.6"/><circle cx="177" cy="261.9" r="1.6"/><circle cx="173.7" cy="268.6" r="1.6"/><circle cx="175" cy="269.5" r="1.6"/><circle cx="166.6" cy="281.2" r="1.6"/><circle cx="156.7" cy="283" r="1.6"/><circle cx="150.7" cy="284.5" r="1.6"/><circle cx="162.6" cy="287.5" r="1.6"/><circle cx="167.3" cy="287.9" r="1.6"/><circle cx="149.9" cy="284.9" r="1.6"/><circle cx="156.8" cy="282.7" r="1.6"/><circle cx="160.6" cy="296" r="1.6"/><circle cx="145.7" cy="297.3" r="1.6"/><circle cx="150.6" cy="294" r="1.6"/><circle cx="152.6" cy="312.6" r="1.6"/><circle cx="156.3" cy="321.9" r="1.6"/><circle cx="126.2" cy="313.9" r="1.6"/><circle cx="142.6" cy="326.6" r="1.6"/><circle cx="143.9" cy="330.8" r="1.6"/><circle cx="140.6" cy="334.5" r="1.6"/><circle cx="134" cy="335.2" r="1.6"/><circle cx="137.9" cy="338.3" r="1.6"/><circle cx="100.2" cy="322.9" r="1.6"/><circle cx="85.3" cy="341.3" r="1.6"/><circle cx="86.7" cy="345.3" r="1.6"/><circle cx="90.6" cy="344.6" r="1.6"/><circle cx="92.6" cy="341.3" r="1.6"/><circle cx="83.3" cy="351.3" r="1.6"/><circle cx="86" cy="351.9" r="1.6"/><circle cx="89.3" cy="353.3" r="1.6"/><circle cx="93.3" cy="359.9" r="1.6"/><circle cx="94.6" cy="362.6" r="1.6"/><circle cx="92.6" cy="366.6" r="1.6"/><circle cx="100" cy="362.6" r="1.6"/><circle cx="101.3" cy="365.9" r="1.6"/><circle cx="98.6" cy="366.6" r="1.6"/><circle cx="104" cy="369.9" r="1.6"/><circle cx="107.9" cy="365.9" r="1.6"/><circle cx="86.7" cy="374.5" r="1.6"/><circle cx="94" cy="373.2" r="1.6"/><circle cx="99.3" cy="373.2" r="1.6"/><circle cx="100" cy="371.2" r="1.6"/><circle cx="110.6" cy="373.2" r="1.6"/><circle cx="111.9" cy="372.1" r="1.6"/><circle cx="114.6" cy="375.2" r="1.6"/><circle cx="118.6" cy="363.9" r="1.6"/><circle cx="119.9" cy="366.6" r="1.6"/><circle cx="121.2" cy="365.9" r="1.6"/><circle cx="125.2" cy="355.9" r="1.6"/><circle cx="137.2" cy="346.6" r="1.6"/><circle cx="136.5" cy="356.6" r="1.6"/><circle cx="133.9" cy="336" r="1.6"/><circle cx="137.9" cy="337.3" r="1.6"/><circle cx="131.9" cy="344" r="1.6"/><circle cx="88" cy="364.6" r="1.6"/><circle cx="69.9" cy="362" r="1.6"/><circle cx="72.7" cy="361.5" r="1.6"/><circle cx="79.6" cy="371.5" r="1.6"/><circle cx="99.3" cy="386.6" r="1.6"/><circle cx="98.8" cy="373.1" r="1.6"/><circle cx="100.4" cy="370.8" r="1.6"/><circle cx="109.6" cy="373.1" r="1.6"/><circle cx="114.2" cy="375.4" r="1.6"/><circle cx="86.5" cy="364.6" r="1.6"/><circle cx="88.1" cy="363.8" r="1.6"/><circle cx="83.5" cy="350.8" r="1.6"/><circle cx="85" cy="341.5" r="1.6"/><circle cx="86.5" cy="345.4" r="1.6"/><circle cx="143.2" cy="326.5" r="1.6"/><circle cx="144" cy="331.1" r="1.6"/><circle cx="140.1" cy="334.2" r="1.6"/><circle cx="133.9" cy="335.8" r="1.6"/><circle cx="137.8" cy="338.1" r="1.6"/><circle cx="131.6" cy="343.5" r="1.6"/><circle cx="136.2" cy="347.1" r="1.6"/><circle cx="140.6" cy="350.8" r="1.6"/><circle cx="137" cy="356.7" r="1.6"/><circle cx="99.9" cy="305.4" r="1.6"/><circle cx="62.6" cy="313.2" r="1.6"/><circle cx="121" cy="316.7" r="1.6"/><circle cx="83.3" cy="349.8" r="1.6"/><circle cx="86" cy="352.5" r="1.6"/><circle cx="90" cy="355.2" r="1.6"/><circle cx="140.5" cy="347.2" r="1.6"/><circle cx="120.6" cy="367.1" r="1.6"/><circle cx="119.2" cy="363.7" r="1.6"/><circle cx="110.53" cy="364.85" r="1.6"/><circle cx="119.41" cy="359.88" r="1.6"/><circle cx="113.47" cy="368.47" r="1.6"/><circle cx="122.72" cy="358.61" r="1.6"/><circle cx="113.46" cy="364.64" r="1.6"/><circle cx="108.12" cy="369.53" r="1.6"/><circle cx="109.02" cy="362.23" r="1.6"/><circle cx="100.85" cy="360.33" r="1.6"/><circle cx="111.87" cy="366.3" r="1.6"/><circle cx="105.34" cy="367.85" r="1.6"/><circle cx="123.41" cy="363.78" r="1.6"/><circle cx="100.24" cy="358.99" r="1.6"/><circle cx="94.43" cy="360.5" r="1.6"/><circle cx="98.74" cy="359.82" r="1.6"/><circle cx="100.96" cy="361.52" r="1.6"/><circle cx="96.68" cy="357.54" r="1.6"/><circle cx="116.91" cy="363.84" r="1.6"/><circle cx="94.46" cy="358.09" r="1.6"/><circle cx="94.31" cy="360.43" r="1.6"/><circle cx="92.07" cy="359.86" r="1.6"/><circle cx="97.3" cy="358.7" r="1.6"/><circle cx="113.53" cy="362.41" r="1.6"/><circle cx="106.42" cy="328.98" r="1.6"/><circle cx="164.1" cy="288.77" r="1.6"/><circle cx="92.97" cy="352.05" r="1.6"/><circle cx="135.33" cy="335.81" r="1.6"/><circle cx="137.98" cy="305.83" r="1.6"/><circle cx="127.95" cy="350.41" r="1.6"/><circle cx="149.44" cy="314.22" r="1.6"/><circle cx="133.23" cy="342.57" r="1.6"/><circle cx="95.92" cy="355.95" r="1.6"/><circle cx="118.07" cy="315.7" r="1.6"/><circle cx="116.53" cy="317.64" r="1.6"/><circle cx="152.27" cy="294.46" r="1.6"/><circle cx="93.63" cy="347.33" r="1.6"/><circle cx="102.93" cy="332.71" r="1.6"/><circle cx="137.62" cy="304.05" r="1.6"/><circle cx="128.15" cy="314.45" r="1.6"/><circle cx="103.91" cy="332.66" r="1.6"/><circle cx="129.45" cy="311.69" r="1.6"/><circle cx="138.77" cy="329.94" r="1.6"/><circle cx="134.73" cy="332.48" r="1.6"/><circle cx="114.08" cy="358.35" r="1.6"/><circle cx="112.42" cy="321.8" r="1.6"/><circle cx="121.3" cy="315.69" r="1.6"/><circle cx="150.49" cy="304.76" r="1.6"/><circle cx="148.96" cy="314.81" r="1.6"/><circle cx="127.02" cy="348.26" r="1.6"/><circle cx="98.74" cy="338.01" r="1.6"/><circle cx="104.81" cy="330.62" r="1.6"/><circle cx="158.33" cy="298.54" r="1.6"/><circle cx="150.01" cy="306.49" r="1.6"/><circle cx="113.07" cy="321.68" r="1.6"/><circle cx="122.07" cy="356.6" r="1.6"/><circle cx="136.71" cy="329.48" r="1.6"/><circle cx="94.22" cy="340.18" r="1.6"/><circle cx="163.54" cy="290.31" r="1.6"/><circle cx="130.07" cy="345.9" r="1.6"/><circle cx="149.02" cy="312.54" r="1.6"/><circle cx="159.92" cy="296.53" r="1.6"/><circle cx="111.87" cy="360.99" r="1.6"/><circle cx="102.45" cy="358.42" r="1.6"/><circle cx="119.59" cy="356.63" r="1.6"/><circle cx="121.12" cy="315.03" r="1.6"/><circle cx="109.16" cy="360.88" r="1.6"/><circle cx="112.25" cy="360.29" r="1.6"/><circle cx="93.87" cy="343.32" r="1.6"/><circle cx="109.25" cy="325.79" r="1.6"/><circle cx="118.51" cy="358.33" r="1.6"/><circle cx="146.85" cy="318.49" r="1.6"/><circle cx="151.46" cy="293.45" r="1.6"/><circle cx="133.96" cy="340.18" r="1.6"/><circle cx="97.31" cy="336.23" r="1.6"/><circle cx="140" cy="303.7" r="1.6"/><circle cx="131.64" cy="309.5" r="1.6"/><circle cx="138.77" cy="306.1" r="1.6"/><circle cx="112.43" cy="322.54" r="1.6"/><circle cx="96.95" cy="336.32" r="1.6"/><circle cx="115.62" cy="318.8" r="1.6"/><circle cx="150.29" cy="304.52" r="1.6"/><circle cx="102.7" cy="334.53" r="1.6"/><circle cx="128.04" cy="314.06" r="1.6"/><circle cx="113.41" cy="319.86" r="1.6"/><circle cx="100.32" cy="356.29" r="1.6"/><circle cx="128.14" cy="314.42" r="1.6"/><circle cx="131.98" cy="340.24" r="1.6"/><circle cx="124.42" cy="315.08" r="1.6"/><circle cx="131.84" cy="342.87" r="1.6"/><circle cx="143.48" cy="321.24" r="1.6"/><circle cx="159.82" cy="297.27" r="1.6"/><circle cx="161.39" cy="286.55" r="1.6"/><circle cx="135.53" cy="331.89" r="1.6"/><circle cx="133.29" cy="311.27" r="1.6"/><circle cx="93.57" cy="346.97" r="1.6"/><circle cx="143.38" cy="323.71" r="1.6"/><circle cx="102.55" cy="331.32" r="1.6"/><circle cx="127.56" cy="347.95" r="1.6"/><circle cx="99.53" cy="357.21" r="1.6"/><circle cx="154.39" cy="290.37" r="1.6"/><circle cx="135.49" cy="307.29" r="1.6"/><circle cx="116.54" cy="359.62" r="1.6"/><circle cx="110" cy="359.85" r="1.6"/></g>
<line x1="53.7" y1="399.45" x2="202" y2="243.8" stroke="#3e1056" stroke-width="1.1"/>
<text x="62.91" y="265.4" font-size="7.6" textLength="4.36" lengthAdjust="spacingAndGlyphs">R</text>
<path d="M67.72 259.27Q68.71 257.52 69.48 259.27Q69.7 260.25 67.61 261.81H69.81" fill="none" stroke="#1b1a1a" stroke-width="0.55"/>
<text x="69.78" y="265.4" font-size="7.6" textLength="21.23" lengthAdjust="spacingAndGlyphs">=0.989</text>
<text x="90.16" y="301.7" font-size="7.6" textLength="17.62" lengthAdjust="spacingAndGlyphs">TPM3</text>
<text x="55.63" y="309.3" font-size="7.6" textLength="20.76" lengthAdjust="spacingAndGlyphs">MIH14</text>
<text x="47.46" y="441" font-size="9.8" textLength="162.08" lengthAdjust="spacingAndGlyphs">Protein copy number per cell (Bryk et al)</text>
<text x="15.75" y="404.64" font-size="9.8" textLength="167.79" lengthAdjust="spacingAndGlyphs" transform="rotate(-90 15.75 404.64)">Protein copy number per cell (these data)</text>
<text x="226.15" y="235" font-size="12.2" textLength="8.39" lengthAdjust="spacingAndGlyphs">D</text>
<text x="245.07" y="387.7" font-size="7.6" textLength="21.18" lengthAdjust="spacingAndGlyphs">1E+01</text>
<text x="274.75" y="394.3" font-size="7.6" text-anchor="end" textLength="20.2" lengthAdjust="spacingAndGlyphs" transform="rotate(-45 274.75 394.3)">1E+01</text>
<text x="245.07" y="369.84" font-size="7.6" textLength="21.18" lengthAdjust="spacingAndGlyphs">1E+02</text>
<text x="294.29" y="394.3" font-size="7.6" text-anchor="end" textLength="20.2" lengthAdjust="spacingAndGlyphs" transform="rotate(-45 294.29 394.3)">1E+02</text>
<text x="245.07" y="351.99" font-size="7.6" textLength="21.15" lengthAdjust="spacingAndGlyphs">1E+03</text>
<text x="313.84" y="394.3" font-size="7.6" text-anchor="end" textLength="20.2" lengthAdjust="spacingAndGlyphs" transform="rotate(-45 313.84 394.3)">1E+03</text>
<text x="245.07" y="334.13" font-size="7.6" textLength="21.03" lengthAdjust="spacingAndGlyphs">1E+04</text>
<text x="333.38" y="394.3" font-size="7.6" text-anchor="end" textLength="20.2" lengthAdjust="spacingAndGlyphs" transform="rotate(-45 333.38 394.3)">1E+04</text>
<text x="245.07" y="316.28" font-size="7.6" textLength="21.13" lengthAdjust="spacingAndGlyphs">1E+05</text>
<text x="352.93" y="394.3" font-size="7.6" text-anchor="end" textLength="20.2" lengthAdjust="spacingAndGlyphs" transform="rotate(-45 352.93 394.3)">1E+05</text>
<text x="245.07" y="298.42" font-size="7.6" textLength="21.15" lengthAdjust="spacingAndGlyphs">1E+06</text>
<text x="372.47" y="394.3" font-size="7.6" text-anchor="end" textLength="20.2" lengthAdjust="spacingAndGlyphs" transform="rotate(-45 372.47 394.3)">1E+06</text>
<text x="245.07" y="280.56" font-size="7.6" textLength="21.18" lengthAdjust="spacingAndGlyphs">1E+07</text>
<text x="392.01" y="394.3" font-size="7.6" text-anchor="end" textLength="20.2" lengthAdjust="spacingAndGlyphs" transform="rotate(-45 392.01 394.3)">1E+07</text>
<text x="245.07" y="262.71" font-size="7.6" textLength="21.15" lengthAdjust="spacingAndGlyphs">1E+08</text>
<text x="411.56" y="394.3" font-size="7.6" text-anchor="end" textLength="20.2" lengthAdjust="spacingAndGlyphs" transform="rotate(-45 411.56 394.3)">1E+08</text>
<text x="245.07" y="244.85" font-size="7.6" textLength="21.16" lengthAdjust="spacingAndGlyphs">1E+09</text>
<text x="431.1" y="394.3" font-size="7.6" text-anchor="end" textLength="20.2" lengthAdjust="spacingAndGlyphs" transform="rotate(-45 431.1 394.3)">1E+09</text>
<path d="M272.25 385.35v3M291.79 385.35v3M311.34 385.35v3M330.88 385.35v3M350.43 385.35v3M369.97 385.35v3M389.51 385.35v3M409.06 385.35v3M428.6 385.35v3M278.13 385.35v2.4M281.57 385.35v2.4M284.02 385.35v2.4M285.91 385.35v2.4M287.46 385.35v2.4M288.77 385.35v2.4M289.9 385.35v2.4M290.9 385.35v2.4M297.68 385.35v2.4M301.12 385.35v2.4M303.56 385.35v2.4M305.45 385.35v2.4M307 385.35v2.4M308.31 385.35v2.4M309.44 385.35v2.4M310.44 385.35v2.4M317.22 385.35v2.4M320.66 385.35v2.4M323.1 385.35v2.4M325 385.35v2.4M326.55 385.35v2.4M327.85 385.35v2.4M328.99 385.35v2.4M329.99 385.35v2.4M336.76 385.35v2.4M340.21 385.35v2.4M342.65 385.35v2.4M344.54 385.35v2.4M346.09 385.35v2.4M347.4 385.35v2.4M348.53 385.35v2.4M349.53 385.35v2.4M356.31 385.35v2.4M359.75 385.35v2.4M362.19 385.35v2.4M364.09 385.35v2.4M365.63 385.35v2.4M366.94 385.35v2.4M368.07 385.35v2.4M369.07 385.35v2.4M375.85 385.35v2.4M379.29 385.35v2.4M381.74 385.35v2.4M383.63 385.35v2.4M385.18 385.35v2.4M386.49 385.35v2.4M387.62 385.35v2.4M388.62 385.35v2.4M395.4 385.35v2.4M398.84 385.35v2.4M401.28 385.35v2.4M403.17 385.35v2.4M404.72 385.35v2.4M406.03 385.35v2.4M407.16 385.35v2.4M408.16 385.35v2.4M414.94 385.35v2.4M418.38 385.35v2.4M420.82 385.35v2.4M422.72 385.35v2.4M424.26 385.35v2.4M425.57 385.35v2.4M426.71 385.35v2.4M427.71 385.35v2.4M272.25 385.35h-3M272.25 367.49h-3M272.25 349.64h-3M272.25 331.78h-3M272.25 313.93h-3M272.25 296.07h-3M272.25 278.21h-3M272.25 260.36h-3M272.25 242.5h-3M272.25 379.97h-2.4M272.25 376.83h-2.4M272.25 374.6h-2.4M272.25 372.87h-2.4M272.25 371.46h-2.4M272.25 370.26h-2.4M272.25 369.22h-2.4M272.25 368.31h-2.4M272.25 362.12h-2.4M272.25 358.97h-2.4M272.25 356.74h-2.4M272.25 355.01h-2.4M272.25 353.6h-2.4M272.25 352.4h-2.4M272.25 351.37h-2.4M272.25 350.45h-2.4M272.25 344.26h-2.4M272.25 341.12h-2.4M272.25 338.89h-2.4M272.25 337.16h-2.4M272.25 335.74h-2.4M272.25 334.55h-2.4M272.25 333.51h-2.4M272.25 332.6h-2.4M272.25 326.41h-2.4M272.25 323.26h-2.4M272.25 321.03h-2.4M272.25 319.3h-2.4M272.25 317.89h-2.4M272.25 316.69h-2.4M272.25 315.66h-2.4M272.25 314.74h-2.4M272.25 308.55h-2.4M272.25 305.41h-2.4M272.25 303.17h-2.4M272.25 301.44h-2.4M272.25 300.03h-2.4M272.25 298.83h-2.4M272.25 297.8h-2.4M272.25 296.89h-2.4M272.25 290.69h-2.4M272.25 287.55h-2.4M272.25 285.32h-2.4M272.25 283.59h-2.4M272.25 282.17h-2.4M272.25 280.98h-2.4M272.25 279.94h-2.4M272.25 279.03h-2.4M272.25 272.84h-2.4M272.25 269.69h-2.4M272.25 267.46h-2.4M272.25 265.73h-2.4M272.25 264.32h-2.4M272.25 263.12h-2.4M272.25 262.09h-2.4M272.25 261.17h-2.4M272.25 254.98h-2.4M272.25 251.84h-2.4M272.25 249.61h-2.4M272.25 247.88h-2.4M272.25 246.46h-2.4M272.25 245.27h-2.4M272.25 244.23h-2.4M272.25 243.32h-2.4" stroke="#000" stroke-width="0.8" fill="none"/>
<text class="l" x="442.6" y="248.7" font-size="6.5" textLength="15.53" lengthAdjust="spacingAndGlyphs">ACHE</text>
<text class="l" x="442.6" y="257.12" font-size="6.5" textLength="14.91" lengthAdjust="spacingAndGlyphs">ADD1</text>
<text class="l" x="442.6" y="265.54" font-size="6.5" textLength="14.6" lengthAdjust="spacingAndGlyphs">ANK1</text>
<text class="l" x="442.6" y="273.96" font-size="6.5" textLength="16.15" lengthAdjust="spacingAndGlyphs">BCAM</text>
<text class="l" x="442.6" y="282.38" font-size="6.5" textLength="14.29" lengthAdjust="spacingAndGlyphs">CD47</text>
<text class="l" x="442.6" y="290.8" font-size="6.5" textLength="14.29" lengthAdjust="spacingAndGlyphs">CD58</text>
<text class="l" x="442.6" y="299.22" font-size="6.5" textLength="14.29" lengthAdjust="spacingAndGlyphs">CD99</text>
<text class="l" x="442.6" y="307.64" font-size="6.5" textLength="17.4" lengthAdjust="spacingAndGlyphs">EPB41</text>
<text class="l" x="442.6" y="316.06" font-size="6.5" textLength="19.88" lengthAdjust="spacingAndGlyphs">GAPDH</text>
<text class="l" x="442.6" y="324.48" font-size="6.5" textLength="14.6" lengthAdjust="spacingAndGlyphs">HBA1</text>
<text class="l" x="442.6" y="332.9" font-size="6.5" textLength="10.57" lengthAdjust="spacingAndGlyphs">KEL</text>
<text class="l" x="442.6" y="341.32" font-size="6.5" textLength="18.64" lengthAdjust="spacingAndGlyphs">PRDX2</text>
<text class="l" x="442.6" y="349.74" font-size="6.5" textLength="23.93" lengthAdjust="spacingAndGlyphs">SLC14A1</text>
<text class="l" x="442.6" y="358.16" font-size="6.5" textLength="20.82" lengthAdjust="spacingAndGlyphs">SLC2A1</text>
<text class="l" x="442.6" y="366.58" font-size="6.5" textLength="17.29" lengthAdjust="spacingAndGlyphs">SPTA1</text>
<text class="l" x="442.6" y="375" font-size="6.5" textLength="16.05" lengthAdjust="spacingAndGlyphs">STOM</text>
<text class="l" x="442.6" y="383.42" font-size="6.5" textLength="14.91" lengthAdjust="spacingAndGlyphs">TPM3</text>
<text class="l" x="484.9" y="248.7" font-size="6.5" textLength="14.91" lengthAdjust="spacingAndGlyphs">ACTB</text>
<text class="l" x="484.9" y="257.12" font-size="6.5" textLength="14.91" lengthAdjust="spacingAndGlyphs">ADD2</text>
<text class="l" x="484.9" y="265.54" font-size="6.5" textLength="14.91" lengthAdjust="spacingAndGlyphs">AQP1</text>
<text class="l" x="484.9" y="273.96" font-size="6.5" textLength="10.87" lengthAdjust="spacingAndGlyphs">CA2</text>
<text class="l" x="484.9" y="282.38" font-size="6.5" textLength="14.29" lengthAdjust="spacingAndGlyphs">CD55</text>
<text class="l" x="484.9" y="290.8" font-size="6.5" textLength="14.29" lengthAdjust="spacingAndGlyphs">CD59</text>
<text class="l" x="484.9" y="299.22" font-size="6.5" textLength="16.14" lengthAdjust="spacingAndGlyphs">DMTN</text>
<text class="l" x="484.9" y="307.64" font-size="6.5" textLength="17.4" lengthAdjust="spacingAndGlyphs">EPB42</text>
<text class="l" x="484.9" y="316.06" font-size="6.5" textLength="15.12" lengthAdjust="spacingAndGlyphs">GYPA</text>
<text class="l" x="484.9" y="324.48" font-size="6.5" textLength="17.08" lengthAdjust="spacingAndGlyphs">ICAM4</text>
<text class="l" x="484.9" y="332.9" font-size="6.5" textLength="15.22" lengthAdjust="spacingAndGlyphs">MPP1</text>
<text class="l" x="484.9" y="341.32" font-size="6.5" textLength="15.84" lengthAdjust="spacingAndGlyphs">RHCE</text>
<text class="l" x="484.9" y="349.74" font-size="6.5" textLength="23.93" lengthAdjust="spacingAndGlyphs">SLC29A1</text>
<text class="l" x="484.9" y="358.16" font-size="6.5" textLength="20.82" lengthAdjust="spacingAndGlyphs">SLC4A1</text>
<text class="l" x="484.9" y="366.58" font-size="6.5" textLength="14.6" lengthAdjust="spacingAndGlyphs">SPTB</text>
<text class="l" x="484.9" y="375" font-size="6.5" textLength="19.56" lengthAdjust="spacingAndGlyphs">TMOD1</text>
<text class="l" x="484.9" y="383.42" font-size="6.5" textLength="15.84" lengthAdjust="spacingAndGlyphs">GYPC</text>
<g><path d="M438 244.5L438.59 246.01L440.1 246.6L438.59 247.19L438 248.7L437.41 247.19L435.9 246.6L437.41 246.01Z" fill="#d9a066"/><rect x="436.2" y="253.22" width="3.6" height="3.6" fill="#a0560f"/><path d="M438 261.89l1.55 1.55l-1.55 1.55l-1.55 -1.55Z" fill="none" stroke="#a3c47f" stroke-width="0.9"/><circle cx="438" cy="271.86" r="1.5" fill="#1f5a3d"/><path d="M436.9 280.28h2.2" stroke="#c4305a" stroke-width="1.1"/><circle cx="438" cy="288.7" r="1.5" fill="#f09a1e"/><path d="M438 295.32l1.8 3.6h-3.6Z" fill="#1d5c3a"/><circle cx="438" cy="305.54" r="1.45" fill="none" stroke="#c62f50" stroke-width="0.9"/><path d="M438 311.86L438.59 313.37L440.1 313.96L438.59 314.55L438 316.06L437.41 314.55L435.9 313.96L437.41 313.37Z" fill="#f8c659"/><path d="M436.6 322.38h2.8" stroke="#3b7a5b" stroke-width="1.1"/><rect x="436.2" y="329" width="3.6" height="3.6" fill="#a6163a"/><path d="M436.3 337.52l3.4 3.4M436.3 340.92l3.4 -3.4" stroke="#6cb150" stroke-width="1.1"/><circle cx="438" cy="347.64" r="1.45" fill="#b5d89a" stroke="#6eaa4e" stroke-width="0.9"/><path d="M436.9 356.06h2.2" stroke="#e2a574" stroke-width="1.1"/><path d="M438 362.58l1.9 1.9l-1.9 1.9l-1.9 -1.9Z" fill="#f2a215"/><path d="M438 371.1l1.8 3.6h-3.6Z" fill="#3f9d3f"/><path d="M436.3 379.62l3.4 3.4M436.3 383.02l3.4 -3.4" stroke="#c7762e" stroke-width="1.1"/><path d="M479.7 244.7l1.9 1.9l-1.9 1.9l-1.9 -1.9Z" fill="#1b3a80"/><path d="M479.7 253.22l1.8 3.6h-3.6Z" fill="#4a1264"/><path d="M478 261.74l3.4 3.4M478 265.14l3.4 -3.4" stroke="#4a63a8" stroke-width="1.1"/><path d="M479.7 269.76L480.29 271.27L481.8 271.86L480.29 272.45L479.7 273.96L479.11 272.45L477.6 271.86L479.11 271.27Z" fill="#8399d0"/><path d="M478.3 280.28h2.8" stroke="#7a3c8b" stroke-width="1.1"/><rect x="478.35" y="287.35" width="2.7" height="2.7" fill="none" stroke="#4f6eb7" stroke-width="0.9"/><path d="M478 295.42l3.4 3.4M478 298.82l3.4 -3.4" stroke="#3a51a1" stroke-width="1.1"/><circle cx="479.7" cy="305.54" r="1.45" fill="none" stroke="#8a5ba1" stroke-width="0.9"/><path d="M478.6 313.96h2.2" stroke="#5a80c2" stroke-width="1.1"/><path d="M479.7 320.48l1.9 1.9l-1.9 1.9l-1.9 -1.9Z" fill="#4fa2e2"/><path d="M479.7 329.1l1.55 3.1h-3.1Z" fill="none" stroke="#7a4699" stroke-width="0.9" stroke-linejoin="miter"/><path d="M479.7 337.67l1.55 1.55l-1.55 1.55l-1.55 -1.55Z" fill="none" stroke="#d38a3f" stroke-width="0.9"/><path d="M477.8 347.64h3.8M479.7 345.74v3.8" stroke="#8a91b2" stroke-width="1.1"/><path d="M478.3 356.06h2.8" stroke="#55658f" stroke-width="1.1"/><rect x="478.35" y="363.13" width="2.7" height="2.7" fill="none" stroke="#8790b2" stroke-width="0.9"/><path d="M479.7 371.35l1.55 1.55l-1.55 1.55l-1.55 -1.55Z" fill="none" stroke="#7986b2" stroke-width="0.9"/><circle cx="479.7" cy="381.32" r="1.5" fill="#2d3862"/></g>
<g><path d="M414.3 248.3h6" stroke="#3b7a5b" stroke-width="1.1"/><path d="M352.95 266.15l6.5 6.5M352.95 272.65l6.5 -6.5" stroke="#7cbf55" stroke-width="1.1"/><path d="M366.35 282.6h6.5M369.6 279.35v6.5" stroke="#6a78a6" stroke-width="1.1"/><path d="M330.6 300.3l3 6h-6Z" fill="#3f9d3f"/><path d="M344.1 304.6l6 6M344.1 310.6l6 -6M344.1 307.6h6" stroke="#c98d4c" stroke-width="1.1"/><path d="M351.6 302.35l2.25 2.25l-2.25 2.25l-2.25 -2.25Z" fill="none" stroke="#a9cf85" stroke-width="1"/><circle cx="356.8" cy="306.6" r="2.8" fill="none" stroke="#c62f50" stroke-width="1"/><circle cx="355.5" cy="305.2" r="2.6" fill="none" stroke="#8a5ba1" stroke-width="1"/><path d="M362.4 307h3.2" stroke="#c8304f" stroke-width="1.1"/><path d="M369.25 305.5h3.5" stroke="#3a5a9a" stroke-width="1.1"/><rect x="355" y="297.2" width="5.2" height="5.2" fill="none" stroke="#8aa0d0" stroke-width="1"/><path d="M357.6 296.8l2.6 2.6l-2.6 2.6l-2.6 -2.6Z" fill="#f5c21a"/><path d="M361.3 299.2h3.8M363.2 297.3v3.8" stroke="#f5c860" stroke-width="1.1"/><path d="M364 291.9l2.9 2.9l-2.9 2.9l-2.9 -2.9Z" fill="#1b3a80"/><path d="M367.9 292h5" stroke="#7a3c8b" stroke-width="1.1"/><circle cx="338.3" cy="316.1" r="2.5" fill="#f09a1e"/><path d="M339.5 312.6l2.6 5.2h-5.2Z" fill="#4a1264"/><circle cx="343.7" cy="317.2" r="2.6" fill="#3a4060"/><path d="M348.6 315.55l2.5 5h-5Z" fill="none" stroke="#7a4699" stroke-width="1" stroke-linejoin="miter"/><rect x="337.4" y="320" width="5" height="5" fill="none" stroke="#8790b2" stroke-width="1"/><circle cx="333.3" cy="323.6" r="2.7" fill="#b5d89a" stroke="#8cc063" stroke-width="1"/><path d="M350.4 308.7l6 6M350.4 314.7l6 -6" stroke="#6a78a6" stroke-width="1.1"/><path d="M349.45 326.15l6.5 6.5M349.45 332.65l6.5 -6.5" stroke="#3a51a1" stroke-width="1.1"/><path d="M355.8 325.7l2.5 2.5l-2.5 2.5l-2.5 -2.5Z" fill="none" stroke="#d38a3f" stroke-width="1"/><path d="M327.6 332.7h6M330.6 329.7v6" stroke="#8a91b2" stroke-width="1.1"/><circle cx="320" cy="338.5" r="2.7" fill="#1f5a3d"/><path d="M325 337.1l2.6 2.6l-2.6 2.6l-2.6 -2.6Z" fill="#f2a215"/><path d="M311 339.3l2.9 5.8h-5.8Z" fill="#1d5c3a"/><path d="M322.6 346.1l2.7 2.7l-2.7 2.7l-2.7 -2.7Z" fill="#4fa2e2"/><rect x="327.6" y="346.6" width="5.8" height="5.8" fill="#a6163a"/><path d="M333.85 345.3h5.5" stroke="#2f3a55" stroke-width="1.1"/><path d="M327.6 362h6M330.6 359v6" stroke="#d9a066" stroke-width="1.1"/></g>
<line x1="272.25" y1="385.35" x2="428.6" y2="242.5" stroke="#4b9cdf" stroke-width="1.25"/>
<rect x="272.25" y="242.5" width="156.35" height="142.85" fill="none" stroke="#000" stroke-width="1.2"/>
<text x="288.14" y="257.7" font-size="7.6" textLength="4.97" lengthAdjust="spacingAndGlyphs">R</text>
<path d="M293.72 251.57Q294.71 249.81 295.48 251.57Q295.7 252.55 293.61 254.11H295.81" fill="none" stroke="#1b1a1a" stroke-width="0.55"/>
<text x="296.08" y="257.7" font-size="7.6" textLength="4.05" lengthAdjust="spacingAndGlyphs">=</text>
<text x="301.04" y="257.7" font-size="7.6" textLength="22.06" lengthAdjust="spacingAndGlyphs">0.9954</text>
<text x="323.78" y="271.2" font-size="7.6" textLength="21.43" lengthAdjust="spacingAndGlyphs">PRDX2</text>
<text x="303.12" y="305.4" font-size="7.6" textLength="18.8" lengthAdjust="spacingAndGlyphs">STOM</text>
<text x="298.34" y="425.85" font-size="9.8" textLength="103.69" lengthAdjust="spacingAndGlyphs">Published quantifications</text>
<text x="233.5" y="366.75" font-size="9.8" textLength="105.86" lengthAdjust="spacingAndGlyphs" transform="rotate(-90 233.5 366.75)">Calculated quantifications</text>
</svg>
</body></html>
